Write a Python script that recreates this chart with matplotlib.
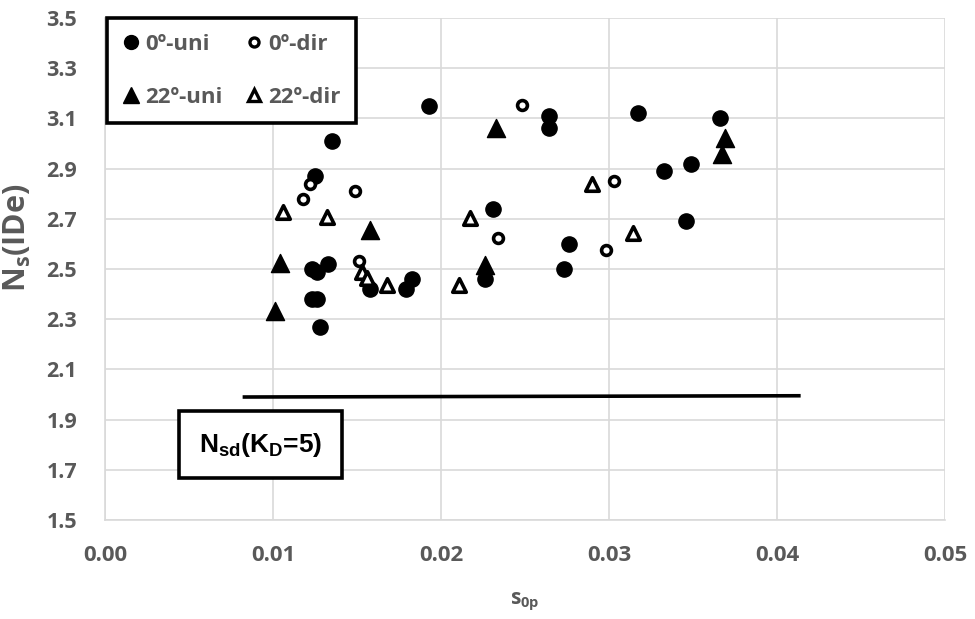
import matplotlib
matplotlib.use('Agg')
import matplotlib.pyplot as plt
from matplotlib.lines import Line2D
from matplotlib import font_manager

# Data
uni0_x = [0.0193, 0.0135, 0.0125, 0.0231, 0.0123, 0.0126, 0.0133, 0.0158, 0.0183,
          0.0179, 0.0226, 0.0123, 0.0126, 0.0128, 0.0264, 0.0264, 0.0317, 0.0366,
          0.0333, 0.0349, 0.0346, 0.0276, 0.0273]
uni0_y = [3.15, 3.01, 2.87, 2.74, 2.50, 2.49, 2.52, 2.42, 2.46,
          2.42, 2.46, 2.38, 2.38, 2.27, 3.11, 3.06, 3.12, 3.10,
          2.89, 2.92, 2.69, 2.60, 2.50]

dir0_x = [0.0248, 0.0122, 0.0118, 0.0149, 0.0234, 0.0151, 0.0303, 0.0298]
dir0_y = [3.155, 2.84, 2.78, 2.81, 2.625, 2.53, 2.85, 2.575]

uni22_x = [0.0233, 0.0158, 0.0104, 0.0101, 0.0226, 0.0369, 0.0367]
uni22_y = [3.06, 2.655, 2.525, 2.333, 2.516, 3.02, 2.957]

dir22_x = [0.0106, 0.0132, 0.0217, 0.0153, 0.0156, 0.0168, 0.0211, 0.0290, 0.0314]
dir22_y = [2.728, 2.708, 2.702, 2.49, 2.466, 2.436, 2.436, 2.838, 2.642]

# Nsd(KD=5) reference line
nsd_x = [0.0083, 0.0413]
nsd_y = [1.99, 1.995]

x_ticks = [0.00, 0.01, 0.02, 0.03, 0.04, 0.05]
y_ticks = [1.5, 1.7, 1.9, 2.1, 2.3, 2.5, 2.7, 2.9, 3.1, 3.3, 3.5]

GRAY = '#595959'
GRID = '#d9d9d9'

plt.rcParams['font.family'] = ['Open Sans', 'DejaVu Sans']
plt.rcParams['mathtext.default'] = 'regular'

# narrow bold face for the Nsd label, if there is one
installed = {f.name for f in font_manager.fontManager.ttflist}
box_family = 'Liberation Sans Narrow' if 'Liberation Sans Narrow' in installed else 'Liberation Sans'
box_size = 24 if box_family == 'Liberation Sans Narrow' else 19

fig = plt.figure(figsize=(9.75, 6.19), dpi=100)
ax = fig.add_axes([105 / 975, 1 - 520 / 619, 840 / 975, 502 / 619])

ax.scatter(uni0_x, uni0_y, s=120, marker='o', facecolor='black',
           edgecolor='black', linewidth=1, zorder=3)
ax.scatter(dir0_x, dir0_y, s=50, marker='o', facecolor='white',
           edgecolor='black', linewidth=2.6, zorder=3)
ax.scatter(uni22_x, uni22_y, s=170, marker='^', facecolor='black',
           edgecolor='black', linewidth=1, zorder=3)
ax.scatter(dir22_x, dir22_y, s=95, marker='^', facecolor='white',
           edgecolor='black', linewidth=2.6, zorder=3)

ax.plot(nsd_x, nsd_y, color='black', linewidth=2.6, zorder=2)

ax.set_xlim(0, 0.05)
ax.set_ylim(1.5, 3.5)
ax.set_xticks(x_ticks)
ax.set_yticks(y_ticks)
ax.set_xticklabels([f'{v:.2f}' for v in x_ticks])
ax.set_yticklabels([f'{v:.1f}' for v in y_ticks])
ax.tick_params(length=0, labelcolor=GRAY)
ax.tick_params(axis='y', labelsize=15.5, pad=20)
ax.tick_params(axis='x', labelsize=16, pad=18)
for lbl in ax.get_xticklabels() + ax.get_yticklabels():
    lbl.set_fontweight('bold')

ax.grid(True, color=GRID, linewidth=1.2)
ax.set_axisbelow(True)
for side in ['top', 'right']:
    ax.spines[side].set_visible(False)
for side in ['left', 'bottom']:
    ax.spines[side].set_color(GRID)
    ax.spines[side].set_linewidth(1.2)

ax.set_ylabel('N$_{s}$(IDe)', fontsize=22, fontweight='bold', color=GRAY)
ax.yaxis.set_label_coords(-0.086, 0.562)
ax.set_xlabel('s$_{0p}$', fontsize=15, fontweight='bold', color=GRAY, labelpad=18)

# Legend
handles = [
    Line2D([], [], linestyle='none', marker='o', markersize=10, markerfacecolor='black',
           markeredgecolor='black'),
    Line2D([], [], linestyle='none', marker='^', markersize=11, markerfacecolor='black',
           markeredgecolor='black'),
    Line2D([], [], linestyle='none', marker='o', markersize=6.5, markerfacecolor='white',
           markeredgecolor='black', markeredgewidth=2.4),
    Line2D([], [], linestyle='none', marker='^', markersize=8.5, markerfacecolor='white',
           markeredgecolor='black', markeredgewidth=2.4),
]
labels = ['0º-uni', '22º-uni', '0º-dir', '22º-dir']
leg = ax.legend(handles, labels, ncol=2, loc='upper left', bbox_to_anchor=(0.002, 1.0),
                borderaxespad=0, frameon=True, fancybox=False, edgecolor='black',
                framealpha=1, handlelength=0.8, handletextpad=0.25, columnspacing=1.0,
                labelspacing=1.45, borderpad=0.7,
                prop={'size': 16, 'weight': 'bold'})
leg.get_frame().set_linewidth(2.6)
for t in leg.get_texts():
    t.set_color(GRAY)

# Nsd annotation box
ax.text(0.00924, 1.80, 'N$_{sd}$(K$_{D}$=5)', ha='center', va='center',
        fontsize=box_size, fontweight='bold', family=box_family, color='black',
        bbox=dict(boxstyle='square,pad=0.75', facecolor='white', edgecolor='black',
                  linewidth=2.6), zorder=4)

fig.savefig('out.png', dpi=100, facecolor='white')
